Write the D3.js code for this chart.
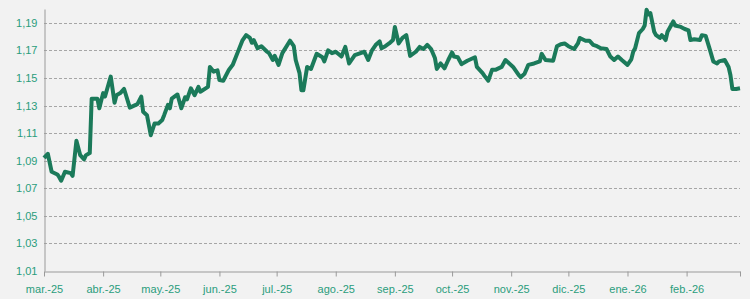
<!DOCTYPE html>
<html lang="es">
<head>
  <meta charset="UTF-8">
  <title>Cotización</title>
  <script src="https://d3js.org/d3.v7.min.js"></script>
  <style>
    body {
      margin: 0;
      padding: 0;
      background: #f2f2f2;
    }
    #chart svg {
      display: block;
      font-family: "DejaVu Sans", Verdana, sans-serif;
    }
    .tick text {
      fill: #2a9d7c;
      font-size: 11px;
    }
  </style>
</head>
<body>
  <div id="chart"></div>

  <script>
    // Daily series
    const dates = [
      "2025-03-01","2025-03-03","2025-03-05","2025-03-08","2025-03-09","2025-03-10","2025-03-12","2025-03-15","2025-03-16","2025-03-18",
      "2025-03-20","2025-03-22","2025-03-23","2025-03-25","2025-03-26","2025-03-29","2025-03-30","2025-04-01","2025-04-02","2025-04-05",
      "2025-04-07","2025-04-08","2025-04-10","2025-04-12","2025-04-15","2025-04-19","2025-04-21","2025-04-22","2025-04-24","2025-04-26",
      "2025-04-28","2025-04-30","2025-05-02","2025-05-03","2025-05-05","2025-05-06","2025-05-07","2025-05-10","2025-05-12","2025-05-14",
      "2025-05-15","2025-05-17","2025-05-19","2025-05-21","2025-05-22","2025-05-26","2025-05-27","2025-05-29","2025-05-31","2025-06-01",
      "2025-06-03","2025-06-06","2025-06-08","2025-06-11","2025-06-13","2025-06-15","2025-06-17","2025-06-18","2025-06-19","2025-06-21",
      "2025-06-23","2025-06-26","2025-06-27","2025-06-29","2025-06-30","2025-07-02","2025-07-04","2025-07-08","2025-07-10","2025-07-11",
      "2025-07-13","2025-07-14","2025-07-15","2025-07-17","2025-07-19","2025-07-22","2025-07-25","2025-07-26","2025-07-28","2025-07-30",
      "2025-08-01","2025-08-04","2025-08-06","2025-08-08","2025-08-11","2025-08-14","2025-08-16","2025-08-18","2025-08-20","2025-08-22",
      "2025-08-24","2025-08-25","2025-08-27","2025-08-29","2025-08-31","2025-09-01","2025-09-02","2025-09-03","2025-09-05","2025-09-07",
      "2025-09-09","2025-09-12","2025-09-14","2025-09-16","2025-09-18","2025-09-20","2025-09-22","2025-09-23","2025-09-25","2025-09-27",
      "2025-09-29","2025-10-01","2025-10-02","2025-10-04","2025-10-06","2025-10-09","2025-10-13","2025-10-14","2025-10-17","2025-10-18",
      "2025-10-20","2025-10-22","2025-10-24","2025-10-27","2025-10-29","2025-10-31","2025-11-02","2025-11-05","2025-11-06","2025-11-08",
      "2025-11-10","2025-11-13","2025-11-16","2025-11-17","2025-11-19","2025-11-23","2025-11-25","2025-11-27","2025-11-29","2025-12-01",
      "2025-12-04","2025-12-06","2025-12-07","2025-12-10","2025-12-12","2025-12-14","2025-12-16","2025-12-18","2025-12-21","2025-12-23",
      "2025-12-25","2025-12-27","2025-12-29","2026-01-01","2026-01-03","2026-01-04","2026-01-05","2026-01-07","2026-01-09","2026-01-10",
      "2026-01-11","2026-01-12","2026-01-13","2026-01-15","2026-01-16","2026-01-18","2026-01-19","2026-01-21","2026-01-22","2026-01-25",
      "2026-01-26","2026-01-29","2026-01-31","2026-02-02","2026-02-03","2026-02-05","2026-02-08","2026-02-09","2026-02-11","2026-02-13",
      "2026-02-15","2026-02-17","2026-02-18","2026-02-21","2026-02-23","2026-02-24","2026-02-25","2026-02-27","2026-03-01"
    ];

    const values = [
      1.092, 1.095, 1.082, 1.080, 1.078, 1.0755, 1.082, 1.081, 1.079, 1.1045,
      1.094, 1.091, 1.094, 1.0955, 1.135, 1.135, 1.128, 1.139, 1.1365, 1.151,
      1.132, 1.1375, 1.139, 1.142, 1.1285, 1.131, 1.1365, 1.1255, 1.123, 1.1085,
      1.117, 1.117, 1.1195, 1.123, 1.1305, 1.128, 1.135, 1.138, 1.128, 1.136,
      1.1345, 1.1425, 1.1375, 1.1435, 1.140, 1.1435, 1.158, 1.1545, 1.1555, 1.1485,
      1.148, 1.156, 1.1595, 1.170, 1.177, 1.181, 1.179, 1.1755, 1.1775, 1.1715,
      1.173, 1.169, 1.168, 1.163, 1.166, 1.1595, 1.168, 1.177, 1.173, 1.163,
      1.1535, 1.141, 1.141, 1.158, 1.1565, 1.1675, 1.165, 1.162, 1.170, 1.168,
      1.169, 1.1655, 1.1725, 1.1605, 1.1665, 1.168, 1.169, 1.163, 1.170, 1.174,
      1.1765, 1.1715, 1.173, 1.175, 1.1775, 1.187, 1.181, 1.175, 1.179, 1.181,
      1.166, 1.169, 1.1725, 1.171, 1.174, 1.171, 1.1645, 1.1565, 1.1605, 1.157,
      1.163, 1.1685, 1.1655, 1.165, 1.160, 1.1625, 1.165, 1.158, 1.1535, 1.1515,
      1.148, 1.156, 1.156, 1.158, 1.163, 1.1605, 1.158, 1.152, 1.1505, 1.153,
      1.1595, 1.1605, 1.162, 1.1675, 1.163, 1.1625, 1.173, 1.1745, 1.175, 1.173,
      1.171, 1.175, 1.179, 1.177, 1.177, 1.174, 1.173, 1.1715, 1.171, 1.1655,
      1.163, 1.1655, 1.163, 1.1595, 1.1635, 1.169, 1.1715, 1.1825, 1.1855, 1.188,
      1.1995, 1.196, 1.197, 1.1835, 1.181, 1.179, 1.181, 1.1775, 1.1835, 1.191,
      1.188, 1.187, 1.1855, 1.1845, 1.1775, 1.178, 1.1775, 1.181, 1.1805, 1.1715,
      1.162, 1.1605, 1.162, 1.163, 1.158, 1.152, 1.142, 1.142, 1.1425
    ];

    const yTicks = [1.01, 1.03, 1.05, 1.07, 1.09, 1.11, 1.13, 1.15, 1.17, 1.19];
    const monthNames = ["ene.", "feb.", "mar.", "abr.", "may.", "jun.", "jul.", "ago.", "sep.", "oct.", "nov.", "dic."];

    const width = 750;
    const height = 299;
    const margin = { top: 9, right: 10, bottom: 28, left: 44 };

    const parse = d3.timeParse("%Y-%m-%d");
    const data = dates.map((d, i) => ({ date: parse(d), value: values[i] }));

    const svg = d3.select("#chart")
      .append("svg")
      .attr("width", width)
      .attr("height", height);

    svg.append("rect")
      .attr("width", width)
      .attr("height", height)
      .attr("fill", "#f2f2f2");

    const x = d3.scaleTime()
      .domain([new Date(2025, 2, 1), new Date(2026, 2, 1)])
      .range([margin.left, width - margin.right]);

    const y = d3.scaleLinear()
      .domain([1.01, 1.20])
      .range([height - margin.bottom, margin.top]);

    const fmt = d3.formatLocale({ decimal: ",", thousands: ".", grouping: [3], currency: ["", "€"] }).format(".2f");

    // dashed grid
    svg.append("g")
      .selectAll("line")
      .data(yTicks.slice(1))
      .join("line")
      .attr("x1", margin.left)
      .attr("x2", width - margin.right)
      .attr("y1", d => Math.round(y(d)) + 0.5)
      .attr("y2", d => Math.round(y(d)) + 0.5)
      .attr("stroke", "#a6a6a6")
      .attr("stroke-dasharray", "3,2");

    // y axis
    const yAxis = svg.append("g")
      .attr("transform", `translate(${margin.left + 0.5},0)`)
      .call(d3.axisLeft(y).tickValues(yTicks).tickFormat(fmt).tickSize(0).tickPadding(7));
    yAxis.select(".domain").attr("stroke", "#9a9a9a");

    // x axis
    const months = d3.timeMonth.range(new Date(2025, 2, 1), new Date(2026, 2, 2));
    const xAxis = svg.append("g")
      .attr("transform", `translate(0,${Math.round(y(1.01)) + 0.5})`)
      .call(d3.axisBottom(x)
        .tickValues(months)
        .tickSize(5)
        .tickSizeOuter(0)
        .tickPadding(9)
        .tickFormat(d => d.getFullYear() === 2026 && d.getMonth() === 2 ? "" :
          monthNames[d.getMonth()] + "-" + String(d.getFullYear()).slice(2)));
    xAxis.select(".domain").attr("stroke", "#9a9a9a");
    xAxis.selectAll(".tick line").attr("stroke", "#9a9a9a");

    // series line
    const line = d3.line()
      .x(d => x(d.date))
      .y(d => y(d.value));

    svg.append("path")
      .datum(data)
      .attr("fill", "none")
      .attr("stroke", "#1b7a5a")
      .attr("stroke-width", 4)
      .attr("stroke-linejoin", "round")
      .attr("d", line);
  </script>
</body>
</html>
